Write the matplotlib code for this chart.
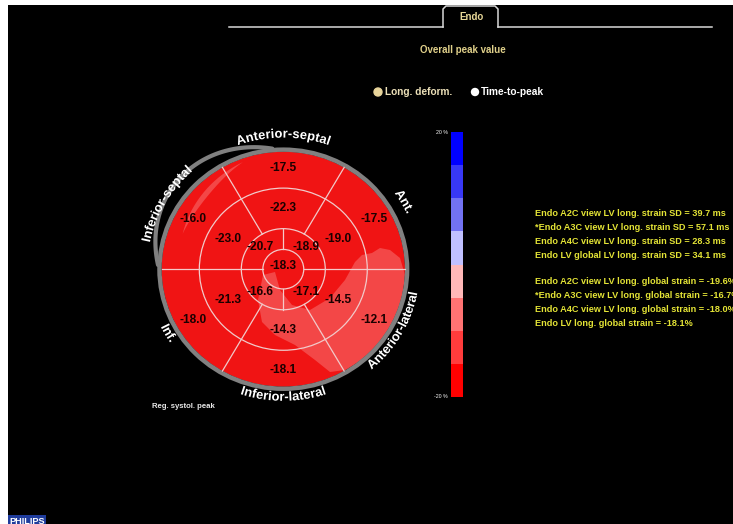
import numpy as np
import matplotlib
matplotlib.use('Agg')
import matplotlib.pyplot as plt
from matplotlib.patches import Wedge, Circle, Polygon, Ellipse, Rectangle, PathPatch
from matplotlib.colors import ListedColormap, BoundaryNorm
from matplotlib.font_manager import FontProperties, findfont, get_font
from matplotlib.ft2font import LoadFlags
from matplotlib.textpath import TextPath
from matplotlib.transforms import Affine2D

# bull's-eye values (Endo, long. strain peak, %)
region_names = ['Anterior-septal', 'Ant.', 'Anterior-lateral', 'Inferior-lateral', 'Inf.', 'Inferior-septal']
region_angles = [90, 30, -30, -90, -150, 150]
basal_vals = [-17.5, -17.5, -12.1, -18.1, -18.0, -16.0]
mid_vals = [-22.3, -19.0, -14.5, -14.3, -21.3, -23.0]
apical_angles = [45, -45, -135, 135]
apical_vals = [-18.9, -17.1, -16.6, -20.7]
apex_val = -18.3

# colour scale
scale_bounds = [-20, -15, -10, -5, 0, 5, 10, 15, 20]
scale_colors = ['#ff0000', '#ff3c3c', '#ff7373', '#ffb8b8', '#c0c0ff', '#7272f2', '#3838f6', '#0000ff']

sd_lines = ['Endo A2C view LV long. strain SD = 39.7 ms',
            '*Endo A3C view LV long. strain SD = 57.1 ms',
            'Endo A4C view LV long. strain SD = 28.3 ms',
            'Endo LV global LV long. strain SD = 34.1 ms']
gs_lines = ['Endo A2C view LV long. global strain = -19.6%',
            '*Endo A3C view LV long. global strain = -16.7%',
            'Endo A4C view LV long. global strain = -18.0%',
            'Endo LV long. global strain = -18.1%']

W, H = 733, 524
plt.rcParams['font.family'] = ['Liberation Sans', 'DejaVu Sans']
fig = plt.figure(figsize=(W / 100, H / 100), dpi=100, facecolor='white')

# pixel overlay for the UI parts
ax_px = fig.add_axes([0, 0, 1, 1])
ax_px.set_xlim(0, W)
ax_px.set_ylim(H, 0)
ax_px.axis('off')
ax_px.add_patch(Rectangle((7.5, 5), W, H, facecolor='black', edgecolor='none'))

line_c = '#d8d8d8'
ax_px.plot([229, 443], [27, 27], color=line_c, lw=1.1)
ax_px.plot([498, 712], [27, 27], color=line_c, lw=1.1)
ax_px.plot([443, 443, 446, 495, 498, 498], [27, 9, 6, 6, 9, 27], color=line_c, lw=1.1)
ax_px.text(471, 17, 'Endo', color='#e8d898', fontsize=7, fontweight='bold', ha='center', va='center')
ax_px.text(463, 50, 'Overall peak value', color='#e0d08a', fontsize=7, fontweight='bold', ha='center', va='center')
ax_px.add_patch(Circle((378, 92), 4, color='#e8d49a'))
ax_px.text(385, 92, 'Long. deform.', color='#ece0b8', fontsize=7.3, fontweight='bold', va='center')
ax_px.add_patch(Circle((475, 92), 3.5, color='white'))
ax_px.text(481, 92, 'Time-to-peak', color='white', fontsize=7.3, fontweight='bold', va='center')

for i, s in enumerate(sd_lines):
    ax_px.text(535, 214 + i * 14, s, color='#e4e436', fontsize=6.6, fontweight='bold', va='center')
for i, s in enumerate(gs_lines):
    ax_px.text(535, 282 + i * 14, s, color='#e4e436', fontsize=6.6, fontweight='bold', va='center')

ax_px.text(152, 407, 'Reg. systol. peak', color='#e8e8e8', fontsize=5.6, fontweight='bold', va='center')
ax_px.text(9, 521, 'PHILIPS', color='white', fontsize=6.6, fontweight='bold', va='center',
           bbox=dict(facecolor='#1f3c9c', edgecolor='none', pad=1))
ax_px.text(448, 132.5, '20 %', color='white', fontsize=3.8, ha='right', va='center')
ax_px.text(448, 397, '-20 %', color='white', fontsize=3.8, ha='right', va='center')

# colour bar
ax_cb = fig.add_axes([451 / W, (H - 397) / H, 12 / W, 265 / H])
cmap = ListedColormap(scale_colors)
norm = BoundaryNorm(scale_bounds, cmap.N)
ax_cb.pcolormesh([0, 1], scale_bounds, np.array(scale_bounds[:-1])[:, None] + 1, cmap=cmap, norm=norm)
ax_cb.axis('off')

# bull's eye
cx, cy, rx, ry = 283.3, 269.2, 121.7, 117.5
lim = 1.3
ax = fig.add_axes([(cx - lim * rx) / W, (H - cy - lim * ry) / H, 2 * lim * rx / W, 2 * lim * ry / H])
ax.set_xlim(-lim, lim)
ax.set_ylim(-lim, lim)
ax.set_aspect('auto')
ax.axis('off')
ax.patch.set_alpha(0)

red = '#f01414'
r_apex, r_api, r_mid, r_bas = 0.168, 0.345, 0.69, 1.0
for ang in region_angles:
    ax.add_patch(Wedge((0, 0), r_bas, ang - 30, ang + 30, width=r_bas - r_mid, facecolor=red, edgecolor='none'))
    ax.add_patch(Wedge((0, 0), r_mid, ang - 30, ang + 30, width=r_mid - r_api, facecolor=red, edgecolor='none'))
for ang in apical_angles:
    ax.add_patch(Wedge((0, 0), r_api, ang - 45, ang + 45, width=r_api - r_apex, facecolor=red, edgecolor='none'))
ax.add_patch(Circle((0, 0), r_apex, facecolor=red, edgecolor='none'))

def px2d(pts):
    p = np.array(pts, dtype=float)
    return np.column_stack([(p[:, 0] - cx) / rx, (cy - p[:, 1]) / ry])

# glossy reflections
hand = [(263, 275), (275, 272), (280, 290), (292, 305), (310, 310), (330, 298), (345, 280), (355, 262),
        (362, 255), (372, 253), (380, 248), (390, 250), (400, 258), (405, 275), (402, 300), (390, 330),
        (370, 355), (345, 370), (330, 372), (315, 360), (295, 345), (275, 335), (262, 322), (258, 300)]
ax.add_patch(Polygon(px2d(hand), closed=True, facecolor='white', alpha=0.22, edgecolor='none'))
t = np.radians(np.linspace(110, 160, 40))
bump = 0.045 * np.sin(np.pi * (t - t[0]) / (t[-1] - t[0]))
r_out = np.linspace(0.97, 0.88, 40)
crescent = np.concatenate([np.column_stack([r_out * np.cos(t), r_out * np.sin(t)]),
                           np.column_stack([((r_out - bump) * np.cos(t))[::-1], ((r_out - bump) * np.sin(t))[::-1]])])
ax.add_patch(Polygon(crescent, closed=True, facecolor='white', alpha=0.22, edgecolor='none'))

# segment borders
seg_c = '#f4caca'
for r in [r_apex, r_api, r_mid]:
    ax.add_patch(Circle((0, 0), r, fill=False, edgecolor=seg_c, lw=0.9))
for ang in region_angles:
    a = np.radians(ang + 30)
    ax.plot([r_api * np.cos(a), r_bas * np.cos(a)], [r_api * np.sin(a), r_bas * np.sin(a)], color=seg_c, lw=0.9)
for ang in apical_angles:
    a = np.radians(ang + 45)
    ax.plot([r_apex * np.cos(a), r_api * np.cos(a)], [r_apex * np.sin(a), r_api * np.sin(a)], color=seg_c, lw=0.9)

# outer grey rim
ax.add_patch(Ellipse((0, 0), 2.035, 2.035, fill=False, edgecolor='#808080', lw=3.2))
t = np.linspace(95, 178, 80)
rr = 1.03 + 0.12 * np.sin(np.pi * (t - 95) / 83)
ax.plot(rr * np.cos(np.radians(t)), rr * np.sin(np.radians(t)), color='#808080', lw=3.0, solid_capstyle='round')

# values
txt = dict(ha='center', va='center', fontsize=8.6, fontweight='bold', color='#1a0000')
for ang, v in zip(region_angles, basal_vals):
    a = np.radians(ang)
    ax.text(0.86 * np.cos(a), 0.86 * np.sin(a), '%.1f' % v, **txt)
for ang, v in zip(region_angles, mid_vals):
    a = np.radians(ang)
    ax.text(0.52 * np.cos(a), 0.52 * np.sin(a), '%.1f' % v, **txt)
for ang, v in zip(apical_angles, apical_vals):
    a = np.radians(ang)
    ax.text(0.27 * np.cos(a), 0.27 * np.sin(a), '%.1f' % v, **txt)
ax.text(0, 0.03, '%.1f' % apex_val, **txt)

# curved region names: each glyph drawn as a path, placed by its advance
fp = FontProperties(family='Liberation Sans', weight='bold')
size_px = 9.3 * 100 / 72
font = get_font(findfont(fp))

def advance(ch):
    font.set_size(size_px, 72)
    g = font.load_char(ord(ch), flags=LoadFlags.NO_HINTING)
    return g.linearHoriAdvance / 65536.0

r_lab = 1.12
r_px = r_lab * (rx + ry) / 2
for name, ang in zip(region_names, region_angles):
    upper = np.sin(np.radians(ang)) > 0.01
    adv = np.array([advance(c) for c in name])
    total = adv.sum()
    mids = np.cumsum(adv) - adv / 2 - total / 2
    for ch, m, w in zip(name, mids, adv):
        off = m / r_px
        if upper:
            a = np.radians(ang) - off
            rot = np.degrees(a) - 90
        else:
            a = np.radians(ang) + off
            rot = np.degrees(a) + 90
        X, Y = ax.transData.transform((r_lab * np.cos(a), r_lab * np.sin(a)))
        tp = TextPath((0, 0), ch, size=size_px, prop=fp)
        tr = Affine2D().translate(-w / 2, 0).rotate_deg(rot).translate(X, Y)
        fig.add_artist(PathPatch(tp, transform=tr, facecolor='white', edgecolor='none'))

fig.savefig('out.png', dpi=100, facecolor='white')
